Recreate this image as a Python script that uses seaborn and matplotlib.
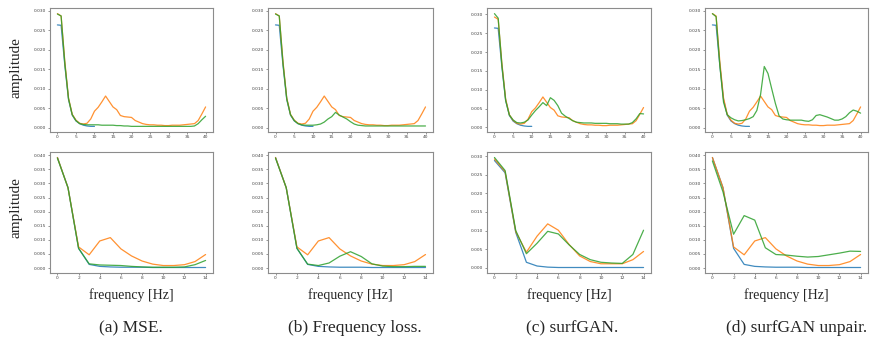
import matplotlib
matplotlib.use('Agg')
import matplotlib.pyplot as plt
import numpy as np
import seaborn as sns

# frequency axes
freq_top = list(range(41))
freq_low = list(range(11))
freq_bot = list(range(15))

# top row: blue (0..10) and orange are shared by all four panels
top_blue = [0.0264, 0.0263, 0.0160, 0.0072, 0.0032, 0.0017, 0.0010, 0.0006,
            0.0004, 0.0003, 0.0003]
top_orange = [0.0293, 0.0287, 0.0170, 0.0076, 0.0034, 0.0019, 0.0011, 0.0009,
              0.0011, 0.0022, 0.0042, 0.0052, 0.0066, 0.0081, 0.0067, 0.0053,
              0.0046, 0.0031, 0.0028, 0.0027, 0.0026, 0.0018, 0.0014, 0.0010,
              0.0008, 0.0007, 0.0007, 0.0006, 0.0006, 0.0005, 0.0005, 0.0006,
              0.0006, 0.0006, 0.0007, 0.0008, 0.0009, 0.0010, 0.0018, 0.0035,
              0.0053]

top_green_a = [0.0292, 0.0287, 0.0165, 0.0074, 0.0033, 0.0018, 0.0010, 0.0008,
               0.0007, 0.0007, 0.0007, 0.0007, 0.0006, 0.0006, 0.0006, 0.0006,
               0.0005, 0.0005, 0.0004, 0.0004, 0.0003, 0.0003, 0.0003, 0.0003,
               0.0003, 0.0003, 0.0003, 0.0003, 0.0003, 0.0003, 0.0003, 0.0003,
               0.0003, 0.0003, 0.0003, 0.0003, 0.0003, 0.0004, 0.0010, 0.0020,
               0.0029]
top_green_b = [0.0292, 0.0287, 0.0165, 0.0074, 0.0033, 0.0018, 0.0010, 0.0007,
               0.0006, 0.0006, 0.0006, 0.0007, 0.0009, 0.0014, 0.0022, 0.0028,
               0.0039, 0.0032, 0.0027, 0.0022, 0.0015, 0.0009, 0.0006, 0.0005,
               0.0004, 0.0004, 0.0004, 0.0004, 0.0004, 0.0004, 0.0004, 0.0004,
               0.0004, 0.0004, 0.0004, 0.0004, 0.0004, 0.0004, 0.0004, 0.0004,
               0.0004]
top_green_c = [0.0302, 0.0290, 0.0165, 0.0072, 0.0033, 0.0020, 0.0013, 0.0012,
               0.0014, 0.0020, 0.0033, 0.0045, 0.0055, 0.0066, 0.0058, 0.0079,
               0.0072, 0.0058, 0.0038, 0.0030, 0.0024, 0.0018, 0.0014, 0.0013,
               0.0012, 0.0012, 0.0012, 0.0011, 0.0011, 0.0011, 0.0011, 0.0010,
               0.0010, 0.0010, 0.0009, 0.0009, 0.0009, 0.0013, 0.0023, 0.0037,
               0.0036]
top_green_d = [0.0293, 0.0285, 0.0160, 0.0065, 0.0033, 0.0025, 0.0020, 0.0017,
               0.0018, 0.0020, 0.0023, 0.0028, 0.0044, 0.0085, 0.0157, 0.0139,
               0.0100, 0.0062, 0.0030, 0.0022, 0.0020, 0.0019, 0.0019, 0.0019,
               0.0019, 0.0017, 0.0016, 0.0020, 0.0031, 0.0033, 0.0030, 0.0027,
               0.0023, 0.0019, 0.0019, 0.0022, 0.0028, 0.0038, 0.0045, 0.0042,
               0.0037]

# bottom row
bot_blue = [0.0392, 0.0285, 0.0070, 0.0013, 0.0006, 0.0004, 0.0003, 0.0003,
            0.0003, 0.0002, 0.0002, 0.0002, 0.0002, 0.0002, 0.0002]
bot_orange = [0.0392, 0.0285, 0.0075, 0.0047, 0.0096, 0.0108, 0.0068, 0.0043,
              0.0025, 0.0014, 0.0009, 0.0009, 0.0012, 0.0023, 0.0048]
bot_green_a = [0.0390, 0.0285, 0.0070, 0.0015, 0.0011, 0.0010, 0.0009, 0.0006,
               0.0004, 0.0003, 0.0003, 0.0003, 0.0004, 0.0012, 0.0027]
bot_green_b = [0.0390, 0.0285, 0.0070, 0.0014, 0.0009, 0.0018, 0.0042, 0.0058,
               0.0041, 0.0015, 0.0007, 0.0005, 0.0005, 0.0006, 0.0006]
bot_blue_c = [0.0288, 0.0255, 0.0095, 0.0015, 0.0005, 0.0002, 0.0001, 0.0001,
              0.0001, 0.0001, 0.0001, 0.0001, 0.0001, 0.0001, 0.0001]
bot_orange_c = [0.0292, 0.0258, 0.0097, 0.0042, 0.0085, 0.0118, 0.0101, 0.0063,
                0.0032, 0.0017, 0.0011, 0.0011, 0.0011, 0.0022, 0.0044]
bot_green_c = [0.0296, 0.0261, 0.0100, 0.0038, 0.0066, 0.0098, 0.0091, 0.0062,
               0.0036, 0.0022, 0.0015, 0.0013, 0.0012, 0.0036, 0.0101]
bot_green_d = [0.0380, 0.0270, 0.0120, 0.0186, 0.0170, 0.0072, 0.0048, 0.0046,
               0.0042, 0.0039, 0.0041, 0.0047, 0.0053, 0.0060, 0.0059]

captions = ['(a) MSE.', '(b) Frequency loss.', '(c) surfGAN.', '(d) surfGAN unpair.']

top_greens = [top_green_a, top_green_b, top_green_c, top_green_d]
bot_sets = [(bot_blue, bot_orange, bot_green_a),
            (bot_blue, bot_orange, bot_green_b),
            (bot_blue_c, bot_orange_c, bot_green_c),
            (bot_blue, bot_orange, bot_green_d)]

sns.set_theme(style='white')
plt.rcParams['font.family'] = ['DejaVu Sans']

W, H = 880, 343
fig = plt.figure(figsize=(W / 100, H / 100), dpi=100)

cols = [(50, 213), (268, 433), (487, 651), (705, 868)]
cap_x = [131, 355, 572, 797]
top_y = (8, 132)
bot_y = (152, 273)

blue, orange, green = '#1f77b4', '#ff7f0e', '#2ca02c'
lw = 0.9


def make_ax(x0, x1, y0, y1):
    ax = fig.add_axes([x0 / W, 1 - y1 / H, (x1 - x0) / W, (y1 - y0) / H])
    for s in ax.spines.values():
        s.set_color('#8c8c8c')
        s.set_linewidth(0.8)
    ax.tick_params(labelsize=3.2, length=1.5, width=0.4, pad=1,
                   colors='#444444', left=True, bottom=True)
    return ax


for i, (x0, x1) in enumerate(cols):
    ax = make_ax(x0, x1, *top_y)
    sns.lineplot(x=freq_low, y=top_blue, ax=ax, color=blue, lw=lw, alpha=0.85)
    sns.lineplot(x=freq_top, y=top_orange, ax=ax, color=orange, lw=lw, alpha=0.85)
    sns.lineplot(x=freq_top, y=top_greens[i], ax=ax, color=green, lw=lw, alpha=0.85)
    ax.set_xticks([0, 5, 10, 15, 20, 25, 30, 35, 40])
    ax.set_yticks(np.arange(0, 0.031, 0.005))
    ax.yaxis.set_major_formatter(matplotlib.ticker.FormatStrFormatter('%.3f'))

    ax = make_ax(x0, x1, *bot_y)
    b, o, g = bot_sets[i]
    sns.lineplot(x=freq_bot, y=b, ax=ax, color=blue, lw=lw, alpha=0.85)
    sns.lineplot(x=freq_bot, y=o, ax=ax, color=orange, lw=lw, alpha=0.85)
    sns.lineplot(x=freq_bot, y=g, ax=ax, color=green, lw=lw, alpha=0.85)
    ax.set_xticks(range(0, 15, 2))
    top = 0.030 if i == 2 else 0.040
    ax.set_yticks(np.arange(0, top + 0.001, 0.005))
    ax.yaxis.set_major_formatter(matplotlib.ticker.FormatStrFormatter('%.3f'))

    cx = (x0 + x1) / 2 / W
    fig.text(cx, 1 - 295 / H, 'frequency [Hz]', ha='center', va='center',
             fontsize=10, family=['Liberation Serif'])
    fig.text(cap_x[i] / W, 1 - 328 / H, captions[i], ha='center', va='center',
             fontsize=12.5, family=['Liberation Serif'])

for yc in (68, 208):
    fig.text(16 / W, 1 - yc / H, 'amplitude', ha='center', va='center',
             rotation=90, fontsize=11, family=['Liberation Serif'])

fig.savefig('out.png', dpi=100)
